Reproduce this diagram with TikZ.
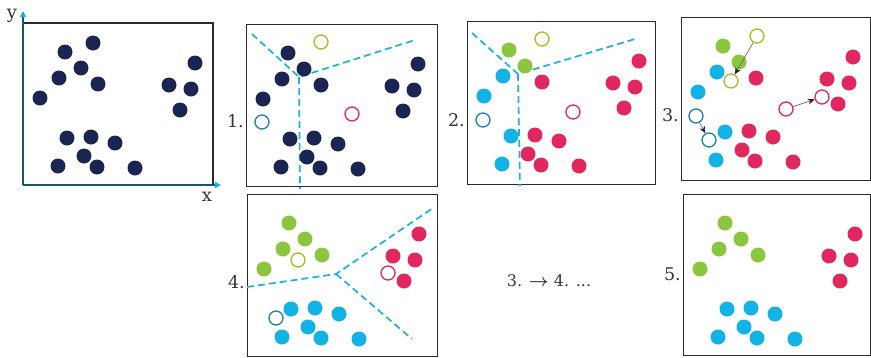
\documentclass[tikz,border=0pt]{standalone}
\usepackage{amsmath}
\usepackage{fontspec}
\setmainfont{DejaVu Serif}
\usetikzlibrary{arrows.meta}
\definecolor{navy}{HTML}{1B2552}
\definecolor{grn}{HTML}{8CC63E}
\definecolor{cyn}{HTML}{12B1E6}
\definecolor{rd}{HTML}{E0285F}
\definecolor{hgrn}{HTML}{A9BC22}
\definecolor{hblu}{HTML}{1F7FA8}
\definecolor{axis}{HTML}{1E5566}
\definecolor{frame}{HTML}{2B2B2B}
\definecolor{txt}{HTML}{333333}
\definecolor{dash}{HTML}{1AB0E0}
\newcommand\mkpts[1]{\foreach \n/\x/\y in {A/42/29,B/70/20,C/58/45,D/36/55,E/75/61,F/17/75,G/172/40,H/146/62,I/168/66,J/157/87,K/44/115,L/68/114,M/92/120,N/61/133,O/35/143,P/74/144,Q/112/145}{\coordinate (#1\n) at (\x,\y);}}
\newcommand\drawpts[2]{\foreach \n/\c in {#2}{\node[dot,fill=\c] (#1d\n) at (#1\n) {};}}
\begin{document}
\begin{tikzpicture}[x=1pt,y=-1pt,
  dot/.style={circle,inner sep=0pt,minimum size=15pt,draw=none},
  hollow/.style={circle,inner sep=0pt,minimum size=14pt,line width=1.3pt,fill=white},
  panel/.style={draw=frame,line width=1.4pt},
  cut/.style={draw=dash,line width=1.7pt,dash pattern=on 7pt off 4pt},
  mv/.style={draw=black!60,line width=0.7pt,-{Stealth[length=7pt,width=6pt,fill=black!85,color=black!85]}},
  lbl/.style={text=txt,font=\fontsize{17.5}{20}\selectfont,anchor=east,inner sep=1pt},
  ax/.style={draw=axis,line width=1.5pt,-{Triangle[length=6pt,width=6pt,fill=cyn,color=cyn]}}]
\useasboundingbox (0,0) rectangle (871,357);
% panel 0
\begin{scope}[shift={(23,23)}]
  \draw[draw=frame,line width=1.4pt] (0,0) -- (190,0) -- (190,162);
  \coordinate (o0) at (0,162);
  \coordinate (yt) at (0,-12);
  \coordinate (xt) at (198,162);
  \draw[ax] (o0) -- (yt);
  \draw[ax] (o0) -- (xt);
  \mkpts{p0}
  \drawpts{p0}{A/navy,B/navy,C/navy,D/navy,E/navy,F/navy,G/navy,H/navy,I/navy,J/navy,K/navy,L/navy,M/navy,N/navy,O/navy,P/navy,Q/navy}
\end{scope}
\node[text=txt,font=\fontsize{18}{20}\selectfont] (ylab) at (12,16) {y};
\node[text=txt,font=\fontsize{18}{20}\selectfont] (xlab) at (207,197) {x};
% panel 1
\begin{scope}[shift={(246,24)}]
  \node[panel,minimum width=191pt,minimum height=162pt,inner sep=0pt,anchor=north west] (b1) at (0,0) {};
  \coordinate (c1s) at (6,10); \coordinate (c1j) at (53,53); \coordinate (c1r) at (169,16); \coordinate (c1b) at (54,165);
  \draw[cut] (c1s) -- (c1j) -- (c1r);
  \draw[cut] (c1j) -- (c1b);
  \mkpts{p1}
  \drawpts{p1}{A/navy,C/navy,D/navy,E/navy,F/navy,G/navy,H/navy,I/navy,J/navy,K/navy,L/navy,M/navy,N/navy,O/navy,P/navy,Q/navy}
  \node[hollow,draw=hgrn] (p1hg) at (75,18) {};
  \node[hollow,draw=rd] (p1hr) at (106,90) {};
  \node[hollow,draw=hblu] (p1hb) at (16,98) {};
\end{scope}
\node[lbl] (l1) at (245,121) {1.};
% panel 2
\begin{scope}[shift={(467,21)}]
  \node[panel,minimum width=188pt,minimum height=163pt,inner sep=0pt,anchor=north west] (b2) at (0,0) {};
  \coordinate (c2s) at (5,12); \coordinate (c2j) at (51,53); \coordinate (c2r) at (168,18); \coordinate (c2b) at (53,165);
  \draw[cut] (c2s) -- (c2j) -- (c2r);
  \draw[cut] (c2j) -- (c2b);
  \mkpts{p2}
  \drawpts{p2}{A/grn,C/grn,D/cyn,F/cyn,K/cyn,O/cyn,E/rd,G/rd,H/rd,I/rd,J/rd,L/rd,M/rd,N/rd,P/rd,Q/rd}
  \node[hollow,draw=hgrn] (p2hg) at (75,18) {};
  \node[hollow,draw=rd] (p2hr) at (106,91) {};
  \node[hollow,draw=hblu] (p2hb) at (16,99) {};
\end{scope}
\node[lbl] (l2) at (466,120) {2.};
% panel 3
\begin{scope}[shift={(681,17)}]
  \node[panel,minimum width=189pt,minimum height=163pt,inner sep=0pt,anchor=north west] (b3) at (0,0) {};
  \mkpts{p3}
  \drawpts{p3}{A/grn,C/grn,D/cyn,F/cyn,K/cyn,O/cyn,E/rd,G/rd,H/rd,I/rd,J/rd,L/rd,M/rd,N/rd,P/rd,Q/rd}
  \node[hollow,draw=hgrn] (p3hg0) at (76,19) {};
  \node[hollow,draw=rd] (p3hr0) at (105,92) {};
  \node[hollow,draw=hblu] (p3hb0) at (15,99) {};
  \node[hollow,draw=hgrn] (p3hg1) at (50,64) {};
  \node[hollow,draw=rd] (p3hr1) at (141,80) {};
  \node[hollow,draw=hblu] (p3hb1) at (28,123) {};
  \draw[mv] (p3hg0) -- (p3hg1);
  \draw[mv] (p3hr0) -- (p3hr1);
  \draw[mv] (p3hb0) -- (p3hb1);
\end{scope}
\node[lbl] (l3) at (680,115) {3.};
% panel 4
\begin{scope}[shift={(247,194)}]
  \node[panel,minimum width=190pt,minimum height=162pt,inner sep=0pt,anchor=north west] (b4) at (0,0) {};
  \coordinate (c4l) at (0,93); \coordinate (c4j) at (89,80); \coordinate (c4r) at (186,14); \coordinate (c4b) at (165,145);
  \draw[cut] (c4l) -- (c4j) -- (c4r);
  \draw[cut] (c4j) -- (c4b);
  \mkpts{p4}
  \drawpts{p4}{A/grn,C/grn,D/grn,E/grn,F/grn,G/rd,H/rd,I/rd,J/rd,K/cyn,L/cyn,M/cyn,N/cyn,O/cyn,P/cyn,Q/cyn}
  \node[hollow,draw=hgrn] (p4hg) at (51,66) {};
  \node[hollow,draw=rd] (p4hr) at (141,79) {};
  \node[hollow,draw=hblu] (p4hb) at (29,124) {};
\end{scope}
\node[lbl] (l4) at (246,282) {4.};
% panel 5
\begin{scope}[shift={(683,194)}]
  \node[panel,minimum width=187pt,minimum height=161pt,inner sep=0pt,anchor=north west] (b5) at (0,0) {};
  \mkpts{p5}
  \drawpts{p5}{A/grn,C/grn,D/grn,E/grn,F/grn,G/rd,H/rd,I/rd,J/rd,K/cyn,L/cyn,M/cyn,N/cyn,O/cyn,P/cyn,Q/cyn}
\end{scope}
\node[lbl] (l5) at (682,274) {5.};
% middle text
\node[text=txt,font=\fontsize{16}{18}\selectfont] (mid) at (549,281) {3. $\boldsymbol{\rightarrow}$ 4. ...};
\end{tikzpicture}
\end{document}
